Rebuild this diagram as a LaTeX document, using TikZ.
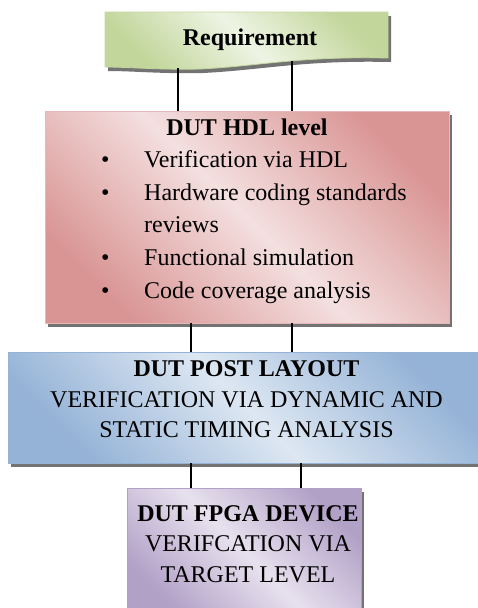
\documentclass[tikz,border=0pt]{standalone}
\usepackage{fontspec}
\setmainfont{Liberation Serif}
\usetikzlibrary{shadows}

\definecolor{reqdark}{HTML}{C2D69B}
\definecolor{reqlight}{HTML}{EEF4E4}
\definecolor{reqline}{HTML}{C3D69B}
\definecolor{hdldark}{HTML}{D99594}
\definecolor{hdllight}{HTML}{F4E0E0}
\definecolor{hdlline}{HTML}{E5B8B7}
\definecolor{postdark}{HTML}{95B3D7}
\definecolor{postlight}{HTML}{DDE7F2}
\definecolor{postline}{HTML}{95B3D7}
\definecolor{fpgadark}{HTML}{B2A1C7}
\definecolor{fpgalight}{HTML}{E7E1EE}
\definecolor{fpgaline}{HTML}{B2A1C7}

\pgfdeclarehorizontalshading{reqshade}{100bp}{color(0bp)=(reqdark); color(25bp)=(reqdark); color(50bp)=(reqlight); color(75bp)=(reqdark); color(100bp)=(reqdark)}
\pgfdeclarehorizontalshading{hdlshade}{100bp}{color(0bp)=(hdldark); color(25bp)=(hdldark); color(50bp)=(hdllight); color(75bp)=(hdldark); color(100bp)=(hdldark)}
\pgfdeclarehorizontalshading{postshade}{100bp}{color(0bp)=(postdark); color(25bp)=(postdark); color(50bp)=(postlight); color(75bp)=(postdark); color(100bp)=(postdark)}
\pgfdeclarehorizontalshading{fpgashade}{100bp}{color(0bp)=(fpgadark); color(25bp)=(fpgadark); color(50bp)=(fpgalight); color(75bp)=(fpgadark); color(100bp)=(fpgadark)}

\begin{document}
\begin{tikzpicture}[x=1pt,y=-1pt,
    box/.style={draw=#1line, shading=#1shade, shading angle=45, line width=0.8pt, inner sep=0pt,
        drop shadow={shadow xshift=3pt, shadow yshift=-4pt, fill=black!55, opacity=1}},
    txt/.style={font=\fontsize{24}{30.5}\selectfont, align=center, inner sep=0pt},
    link/.style={line width=1.2pt}]
    \clip (0,0) rectangle (478,608);

    % requirement, wavy bottom
    \fill[black!55, shift={(3,4)}] (105,12) -- (388,12) -- (388,58) .. controls (300,56) and (260,66) .. (200,69) .. controls (160,70) and (130,67) .. (105,67) -- cycle;
    \path[draw=reqline, shading=reqshade, shading angle=45, line width=0.8pt] (105,12) -- (388,12) -- (388,58) .. controls (300,56) and (260,66) .. (200,69) .. controls (160,70) and (130,67) .. (105,67) -- cycle;
    \node[txt, anchor=base] (req) at (250,45) {\bfseries Requirement};

    \node[box=hdl, minimum width=404pt, minimum height=212pt] (hdl) at (247,217) {};
    \node[box=post, minimum width=478pt, minimum height=111pt] (post) at (247,407.5) {};
    \node[box=fpga, minimum width=234pt, minimum height=127pt] (fpga) at (244,551.5) {};

    \node[txt, anchor=base] (hdltitle) at (247,135) {\bfseries DUT HDL level};
    \node[inner sep=0pt, anchor=base west, font=\fontsize{24}{32.6}\selectfont] (hdlitems) at (101,167.6)
        {\begin{tabular}[t]{@{}p{43pt}@{}l@{}}
        \textbullet & Verification via HDL\\
        \textbullet & Hardware coding standards\\
                    & reviews\\
        \textbullet & Functional simulation\\
        \textbullet & Code coverage analysis
        \end{tabular}};

    \node[txt] (posttext) at (246.5,399.5) {\bfseries DUT POST LAYOUT\\VERIFICATION VIA DYNAMIC AND\\STATIC TIMING ANALYSIS};
    \node[txt] (fpgatext) at (248,544) {\bfseries DUT FPGA DEVICE\\VERIFCATION VIA\\TARGET LEVEL};

    \coordinate (r1) at (178,68);
    \coordinate (r2) at (292,61);
    \draw[link] (r1) -- (r1 |- hdl.north);
    \draw[link] (r2) -- (r2 |- hdl.north);

    \draw[link] (hdl.south -| 191,0) -- (post.north -| 191,0);
    \draw[link] (hdl.south -| 292,0) -- (post.north -| 292,0);

    \draw[link] (post.south -| 191,0) -- (fpga.north -| 191,0);
    \draw[link] (post.south -| 301,0) -- (fpga.north -| 301,0);

\end{tikzpicture}
\end{document}
